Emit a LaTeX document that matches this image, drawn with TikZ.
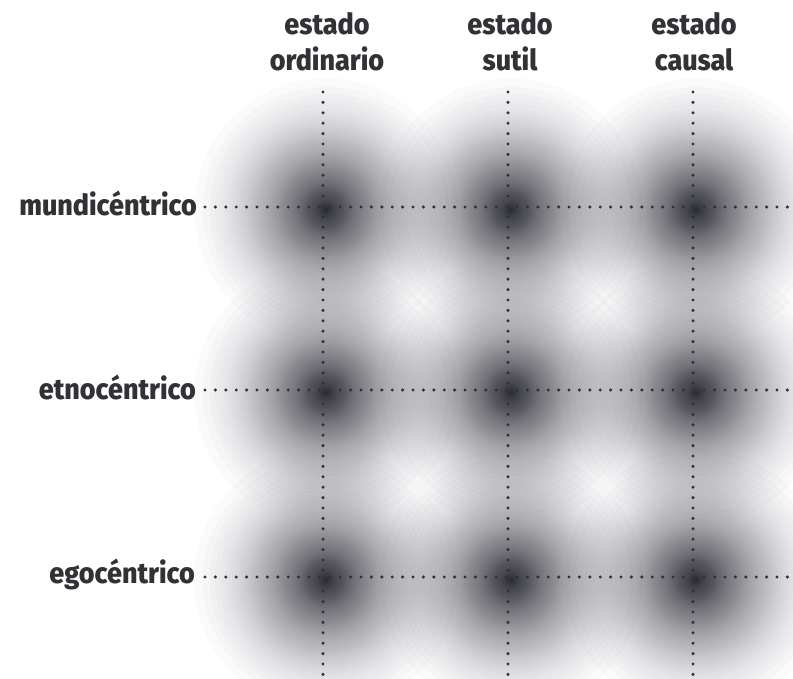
\documentclass[tikz,border=0pt]{standalone}
\usepackage{fontspec}
\newfontfamily\labfont[FakeStretch=0.93,BoldFont={Fira Sans ExtraBold}]{Fira Sans}
\definecolor{blobcol}{RGB}{36,36,46}
\definecolor{inkcol}{RGB}{50,50,54}
\tikzset{
  blobring/.style={fill=blobcol,fill opacity=0.02},
  dotline/.style={draw=inkcol,line width=3.4pt,line cap=round,dash pattern=on 0pt off 10.4pt},
  rowlab/.style={font=\labfont\bfseries\fontsize{29}{34}\selectfont,text=inkcol,anchor=base east,inner sep=0pt},
  collab/.style={font=\labfont\bfseries\fontsize{29}{34}\selectfont,text=inkcol,anchor=base,inner sep=0pt}
}
\begin{document}
\begin{tikzpicture}[x=1pt,y=-1pt]
\useasboundingbox (0,0) rectangle (793,679);
\fill[white] (0,0) rectangle (793,679);
% blurred spots: stacked translucent discs
\foreach \cx in {323,508,693}{
  \foreach \cy in {207,390,577}{
    \foreach \k in {1,...,105}{
      \pgfmathsetmacro{\rr}{150*(1-((1-0.98^\k)/0.88)^(0.5556))}
      \fill[blobring] (\cx+3,\cy+3) circle (\rr);
    }
  }
}
% coordinates
\coordinate (c1t) at (323,92);  \coordinate (c1b) at (323,679);
\coordinate (c2t) at (508,92);  \coordinate (c2b) at (508,679);
\coordinate (c3t) at (693,92);  \coordinate (c3b) at (693,679);
\coordinate (r1l) at (205,207); \coordinate (r1r) at (793,207);
\coordinate (r2l) at (205,390); \coordinate (r2r) at (793,390);
\coordinate (r3l) at (205,577); \coordinate (r3r) at (793,577);
% dotted grid
\draw[dotline] (c1t) -- (c1b);
\draw[dotline] (c2t) -- (c2b);
\draw[dotline] (c3t) -- (c3b);
\draw[dotline] (r1l) -- (r1r);
\draw[dotline] (r2l) -- (r2r);
\draw[dotline] (r3l) -- (r3r);
% row labels
\node[rowlab] (mundi) at (197,216) {mundicéntrico};
\node[rowlab] (etno) at (196,399) {etnocéntrico};
\node[rowlab] (ego) at (195,583) {egocéntrico};
% column labels
\node[collab] (e1) at (327,35) {estado};
\node[collab] (ord) at (327,71) {ordinario};
\node[collab] (e2) at (510,35) {estado};
\node[collab] (sut) at (510,71) {sutil};
\node[collab] (e3) at (694,35) {estado};
\node[collab] (cau) at (694,71) {causal};
\end{tikzpicture}
\end{document}
